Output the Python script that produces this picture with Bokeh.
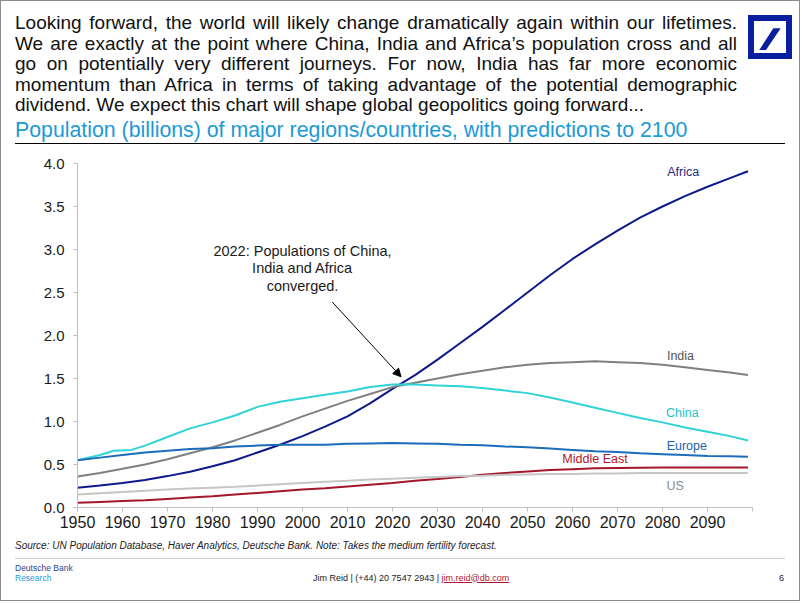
import math
from bokeh.plotting import figure
from bokeh.models import FixedTicker, Label, Arrow, NormalHead, Div
from bokeh.layouts import column
from bokeh.embed import file_html
from bokeh.resources import INLINE

# ---------------- data ----------------
years = [1950, 1955, 1960, 1965, 1970, 1975, 1980, 1985, 1990, 1995, 2000,
         2005, 2010, 2015, 2020, 2025, 2030, 2035, 2040, 2045, 2050, 2055,
         2060, 2065, 2070, 2075, 2080, 2085, 2090, 2095, 2099]
africa = [0.23, 0.255, 0.285, 0.32, 0.365, 0.415, 0.48, 0.55, 0.64, 0.73, 0.83,
          0.94, 1.06, 1.21, 1.38, 1.54, 1.72, 1.91, 2.10, 2.30, 2.50, 2.70,
          2.89, 3.06, 3.22, 3.37, 3.50, 3.62, 3.73, 3.83, 3.91]
india = [0.36, 0.40, 0.45, 0.50, 0.56, 0.63, 0.70, 0.78, 0.87, 0.96, 1.06,
         1.15, 1.24, 1.32, 1.40, 1.45, 1.50, 1.55, 1.59, 1.63, 1.66, 1.68,
         1.69, 1.70, 1.69, 1.68, 1.66, 1.63, 1.60, 1.57, 1.54]
china_years = [1950, 1955, 1958, 1962, 1965, 1970, 1975, 1980, 1985, 1990, 1995,
               2000, 2005, 2010, 2015, 2020, 2025, 2030, 2035, 2040, 2045, 2050,
               2055, 2060, 2065, 2070, 2075, 2080, 2085, 2090, 2095, 2099]
china = [0.55, 0.61, 0.66, 0.67, 0.72, 0.82, 0.92, 0.99, 1.07, 1.17, 1.23,
         1.27, 1.31, 1.35, 1.40, 1.43, 1.43, 1.42, 1.41, 1.39, 1.36, 1.33,
         1.28, 1.22, 1.16, 1.10, 1.04, 0.99, 0.93, 0.88, 0.83, 0.78]
europe = [0.55, 0.58, 0.61, 0.64, 0.66, 0.68, 0.69, 0.71, 0.72, 0.73, 0.73,
          0.73, 0.74, 0.745, 0.75, 0.745, 0.74, 0.73, 0.725, 0.71, 0.70, 0.685,
          0.67, 0.655, 0.645, 0.63, 0.62, 0.61, 0.60, 0.595, 0.59]
middle_east = [0.055, 0.065, 0.075, 0.085, 0.10, 0.115, 0.13, 0.15, 0.17, 0.19, 0.21,
               0.225, 0.245, 0.265, 0.285, 0.31, 0.33, 0.355, 0.38, 0.40, 0.42, 0.435,
               0.445, 0.455, 0.46, 0.463, 0.465, 0.465, 0.465, 0.465, 0.465]
us = [0.15, 0.165, 0.18, 0.195, 0.21, 0.22, 0.23, 0.24, 0.255, 0.27, 0.285,
      0.30, 0.31, 0.325, 0.335, 0.345, 0.355, 0.365, 0.37, 0.38, 0.385, 0.39,
      0.39, 0.395, 0.395, 0.40, 0.40, 0.40, 0.40, 0.40, 0.40]

x_ticks = [1950, 1960, 1970, 1980, 1990, 2000, 2010, 2020, 2030, 2040, 2050,
           2060, 2070, 2080, 2090, 2100]
x_tick_labels = ["1950", "1960", "1970", "1980", "1990", "2000", "2010", "2020",
                 "2030", "2040", "2050", "2060", "2070", "2080", "2090", ""]
y_ticks = [0.0, 0.5, 1.0, 1.5, 2.0, 2.5, 3.0, 3.5, 4.0]

convergence_year = 2022
convergence_value = 1.43

header_lines = [
    "Looking forward, the world will likely change dramatically again within our lifetimes.",
    "We are exactly at the point where China, India and Africa\u2019s population cross and all",
    "go on potentially very different journeys. For now, India has far more economic",
    "momentum than Africa in terms of taking advantage of the potential demographic",
    "dividend. We expect this chart will shape global geopolitics going forward...",
]
subtitle = "Population (billions) of major regions/countries, with predictions to 2100"
annotation_lines = ["2022: Populations of China,", "India and Africa", "converged."]
source_text = ("Source: UN Population Database, Haver Analytics, Deutsche Bank. "
               "Note: Takes the medium fertility forecast.")

# ---------------- styles ----------------
FONT = "Liberation Sans"
CSS_FONT = "'Liberation Sans', Arial, sans-serif"

series = [
    ("Africa", years, africa, "#0d1a8c", "#1f2d7e", 2084.6, 3.90),
    ("India", years, india, "#808080", "#555555", 2084.0, 1.76),
    ("China", china_years, china, "#2fd3d8", "#22c2cc", 2084.4, 1.10),
    ("Europe", years, europe, "#1c6cbc", "#2163b0", 2085.4, 0.72),
    ("Middle East", years, middle_east, "#a3172a", "#b3162c", 2065.0, 0.56),
    ("US", years, us, "#c6c6c6", "#8a8a8a", 2082.8, 0.25),
]

# ---------------- header ----------------
just = "".join(
    f'<div style="text-align:justify;text-align-last:justify;height:20.5px;">{t}</div>'
    for t in header_lines[:-1]
) + f'<div style="text-align:left;height:20.5px;">{header_lines[-1]}</div>'

header_html = f"""
<div style="position:relative;width:802px;height:145px;font-family:{CSS_FONT};">
  <div style="position:absolute;left:15px;top:13px;width:722px;font-size:19px;line-height:20.5px;color:#111;">{just}</div>
  <div style="position:absolute;left:15px;top:117.5px;font-size:21.3px;line-height:25px;color:#1b9ad6;white-space:nowrap;">{subtitle}</div>
  <div style="position:absolute;left:15px;top:142.5px;width:770px;height:0;border-top:1.5px solid #000;"></div>
  <svg style="position:absolute;left:748px;top:15px;" width="44" height="44">
    <rect x="3" y="3" width="38" height="38" fill="none" stroke="#0a1fa0" stroke-width="6"/>
    <polygon points="11.3,35 18,35 32.7,13.3 25.3,13.3" fill="#0a1fa0"/>
  </svg>
</div>
"""
header = Div(text=header_html, width=802, height=145, margin=(0, 0, 0, 0))

# ---------------- figure ----------------
p = figure(width=802, height=390, x_range=(1950, 2100), y_range=(0, 4),
           output_backend="svg", toolbar_location=None,
           min_border_left=77, min_border_right=50, min_border_top=18,
           min_border_bottom=28, outline_line_color=None, margin=(0, 0, 0, 0))
p.xgrid.visible = False
p.ygrid.visible = False

for name, xs, ys, lc, tc, lx, ly in series:
    p.line(xs, ys, line_color=lc, line_width=2)
    p.add_layout(Label(x=lx, y=ly, text=name, text_color=tc, text_font=FONT,
                       text_font_size="12.5px", text_align="center",
                       text_baseline="middle"))

p.xaxis.ticker = FixedTicker(ticks=x_ticks)
p.xaxis.major_label_overrides = {t: l for t, l in zip(x_ticks, x_tick_labels)}
p.yaxis.ticker = FixedTicker(ticks=y_ticks)
p.yaxis.major_label_overrides = {t: f"{t:.1f}" for t in y_ticks}
for ax in (p.xaxis, p.yaxis):
    ax.axis_line_color = "#bfbfbf"
    ax.major_tick_line_color = "#bfbfbf"
    ax.minor_tick_line_color = None
    ax.major_tick_in = 0
    ax.major_tick_out = 4
    ax.major_label_text_font = FONT
    ax.major_label_text_color = "#1a1a1a"
p.xaxis.major_label_text_font_size = "16px"
p.xaxis.major_label_standoff = 4
p.yaxis.major_label_text_font_size = "15px"
p.yaxis.major_label_standoff = 9

p.add_layout(Label(x=-43, y=3.8, x_units="screen", text="Billions", angle=math.pi / 2,
                   text_font=FONT, text_font_size="9px", text_color="#888888",
                   text_align="center", text_baseline="middle"))

ann_x = convergence_year - 22
for i, t in enumerate(annotation_lines):
    p.add_layout(Label(x=ann_x, y=convergence_value + 1.553 - i * 0.203, text=t,
                       text_font=FONT, text_font_size="14.5px", text_color="#1a1a1a",
                       text_align="center", text_baseline="middle"))

p.add_layout(Arrow(end=NormalHead(size=8, fill_color="black", line_color="black"),
                   x_start=convergence_year - 15.4, y_start=convergence_value + 0.96,
                   x_end=convergence_year - 0.1, y_end=convergence_value + 0.09,
                   line_color="black", line_width=1))

# ---------------- footer ----------------
footer_html = f"""
<div style="position:relative;width:802px;height:68px;font-family:{CSS_FONT};">
  <div style="position:absolute;left:15px;top:4.7px;font-size:10px;line-height:12px;font-style:italic;color:#222;white-space:nowrap;">{source_text}</div>
  <div style="position:absolute;left:15px;top:23px;width:770px;height:0;border-top:1px solid #cfcfcf;"></div>
  <div style="position:absolute;left:15px;top:27.7px;font-size:8.5px;line-height:10px;color:#2d3f99;white-space:nowrap;">Deutsche Bank</div>
  <div style="position:absolute;left:15px;top:38.3px;font-size:8.5px;line-height:10px;color:#1e9bd7;white-space:nowrap;">Research</div>
  <div style="position:absolute;left:313px;top:37.5px;font-size:9px;line-height:11px;color:#222;white-space:nowrap;">Jim Reid | (+44) 20 7547 2943 | <span style="color:#b3162c;text-decoration:underline;">jim.reid@db.com</span></div>
  <div style="position:absolute;left:779px;top:37.5px;font-size:9px;line-height:11px;color:#222;">6</div>
  <div style="position:absolute;left:0px;top:-535px;width:800px;height:601px;border:1px solid #8c8c8c;pointer-events:none;"></div>
</div>
"""
footer = Div(text=footer_html, width=802, height=68, margin=(0, 0, 0, 0))

layout = column(header, p, footer, spacing=0, margin=(0, 0, 0, 0))
open("out.html", "w").write(file_html(layout, INLINE))
